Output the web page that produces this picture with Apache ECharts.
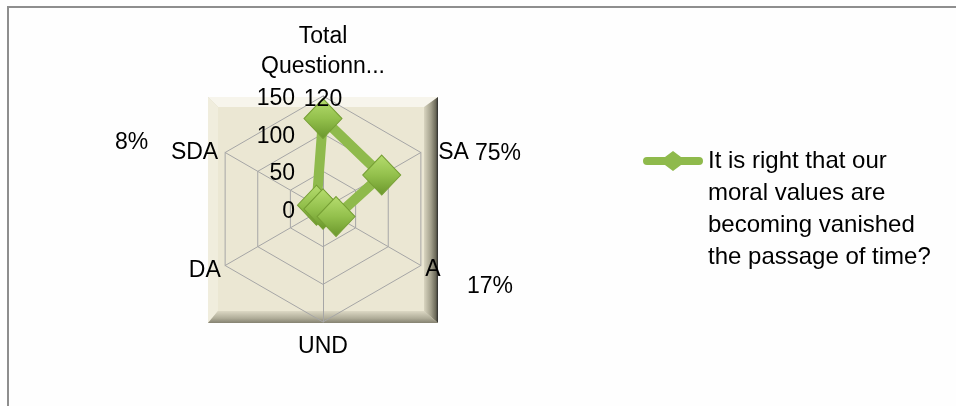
<!DOCTYPE html>
<html>
<head>
<meta charset="utf-8">
<script src="https://cdn.jsdelivr.net/npm/echarts@6/dist/echarts.min.js"></script>
<style>
html,body{margin:0;padding:0;background:#fefefe;}
#chart{width:956px;height:406px;}
</style>
</head>
<body>
<div id="chart"></div>
<script>
// ---- data ----
const categories = ['Total\nQuestionn...', 'SA', 'A', 'UND', 'DA', 'SDA'];
const seriesValues = [120, 90, 20, 0, 0, 10];
const axisMax = 150;
const tickLabels = ['0', '50', '100', '150'];
const percentLabels = ['75%', '17%', '8%']; // SA, A, SDA
const legendLines = ['It is right that our', 'moral values are', 'becoming vanished', 'the passage of time?'];
const seriesName = legendLines.join('\n');

// ECharts radar runs counter-clockwise; reference runs clockwise
const order = [0, 5, 4, 3, 2, 1];
const nameGaps = {0: 9, 1: 20, 2: 5, 3: 10, 4: 5, 5: 8};
const nameShift = {'SA': 'g10', 'SDA': 'g4', 'A': 'g2', 'DA': 'g3'};

const FONT = 'Liberation Sans';

const indicators = order.map(function (i) {
  const ind = {
    name: categories[i],
    min: 0,
    max: axisMax,
    nameGap: nameGaps[i]
  };
  if (i === 0) {
    ind.axisLabel = {
      show: true, color: '#000', fontSize: 23, fontFamily: FONT, margin: 28,
      showMinLabel: true, showMaxLabel: true,
      formatter: function (v) { return '{g| }\n{t|' + (tickLabels[Math.round(v / 50)] || String(v)) + '}'; },
      rich: {
        g: {lineHeight: 5, fontSize: 2},
        t: {fontSize: 23, fontFamily: FONT, color: '#000', lineHeight: 27}
      }
    };
  }
  return ind;
});
const orderedValues = order.map(function (i) { return seriesValues[i]; });

const chart = echarts.init(document.getElementById('chart'), null, {renderer: 'canvas'});

const txt = function (s, x, y) {
  return {type: 'text', z: 50, left: x, top: y, style: {text: s, fontSize: 23, fontFamily: FONT, fill: '#000'}};
};

const option = {
  backgroundColor: '#fefefe',
  animation: false,
  textStyle: {fontFamily: FONT},
  graphic: [
    // outer chart border
    {type: 'rect', z: -20, shape: {x: 8, y: 7, width: 1200, height: 800},
     style: {fill: 'none', stroke: '#8e8e8e', lineWidth: 2}},
    // bevel plot background
    {type: 'rect', z: -10, shape: {x: 208, y: 97, width: 230, height: 226}, style: {fill: '#d8d4bf'}},
    {type: 'polygon', z: -9, shape: {points: [[208,97],[438,97],[426,107],[218,107]]}, style: {fill: '#f7f5ec'}},
    {type: 'polygon', z: -9, shape: {points: [[208,97],[218,107],[218,311],[208,323]]}, style: {fill: '#f0eddd'}},
    {type: 'polygon', z: -9, shape: {points: [[438,97],[438,323],[424,311],[424,107]]},
     style: {fill: new echarts.graphic.LinearGradient(0,0,1,0,[
       {offset:0,color:'#d9d5c0'},{offset:0.5,color:'#a3a08c'},{offset:0.85,color:'#6a6858'},{offset:1,color:'#2a2a2a'}])}},
    {type: 'polygon', z: -9, shape: {points: [[208,323],[438,323],[424,311],[218,311]]},
     style: {fill: new echarts.graphic.LinearGradient(0,0,0,1,[
       {offset:0,color:'#dcd8c4'},{offset:0.6,color:'#b0ad99'},{offset:1,color:'#858271'}])}},
    {type: 'rect', z: -8, shape: {x: 218, y: 107, width: 206, height: 204}, style: {fill: '#ebe7d3'}},
    // percentage annotations
    txt(percentLabels[2], 115, 131),
    txt(percentLabels[0], 475, 142),
    txt(percentLabels[1], 467, 275)
  ],
  legend: {
    left: 643,
    top: 49,
    padding: 0,
    orient: 'vertical',
    itemWidth: 60,
    itemHeight: 20,
    icon: 'path://M4,6 L22,6 L30,0 L38,6 L56,6 A4,4 0 0 1 56,14 L38,14 L30,20 L22,14 L4,14 A4,4 0 0 1 4,6 Z',
    itemStyle: {color: '#8fba4c', borderWidth: 0},
    data: [seriesName],
    formatter: function () { return '{s| }\n' + legendLines.join('\n'); },
    textStyle: {
      fontSize: 24, fontFamily: FONT, color: '#000', lineHeight: 32,
      rich: {s: {lineHeight: 96, fontSize: 2}}
    }
  },
  radar: {
    center: [323, 209],
    radius: 113,
    startAngle: 90,
    shape: 'polygon',
    splitNumber: 3,
    axisName: {
      color: '#000', fontSize: 23, fontFamily: FONT, lineHeight: 30,
      formatter: function (name) {
        const g = nameShift[name];
        return g ? '{' + g + '| }\n{n|' + name + '}' : name;
      },
      rich: {
        g10: {lineHeight: 20, fontSize: 2},
        g4: {lineHeight: 8, fontSize: 2},
        g3: {lineHeight: 6, fontSize: 2},
        g2: {lineHeight: 4, fontSize: 2},
        n: {fontSize: 23, fontFamily: FONT, color: '#000', lineHeight: 28}
      }
    },
    splitLine: {lineStyle: {color: '#a6a6a6', width: 1}},
    splitArea: {show: false},
    axisLine: {lineStyle: {color: '#a6a6a6', width: 1}},
    axisTick: {show: false},
    indicator: indicators
  },
  series: [{
    type: 'radar',
    name: seriesName,
    symbol: 'diamond',
    symbolSize: [38, 40],
    lineStyle: {color: '#8fba4c', width: 10},
    itemStyle: {
      color: new echarts.graphic.LinearGradient(0,0,0,1,[
        {offset:0,color:'#b6dd6f'},{offset:0.5,color:'#93c04c'},{offset:1,color:'#6a962b'}]),
      borderColor: '#769f34', borderWidth: 1
    },
    label: {
      show: true, position: 'inside', offset: [0, -19],
      fontSize: 23, fontFamily: FONT, color: '#000',
      formatter: function (p) { return p.value === seriesValues[0] ? String(p.value) : ''; }
    },
    data: [{value: orderedValues, name: seriesName}]
  }]
};
chart.setOption(option);
</script>
</body>
</html>
